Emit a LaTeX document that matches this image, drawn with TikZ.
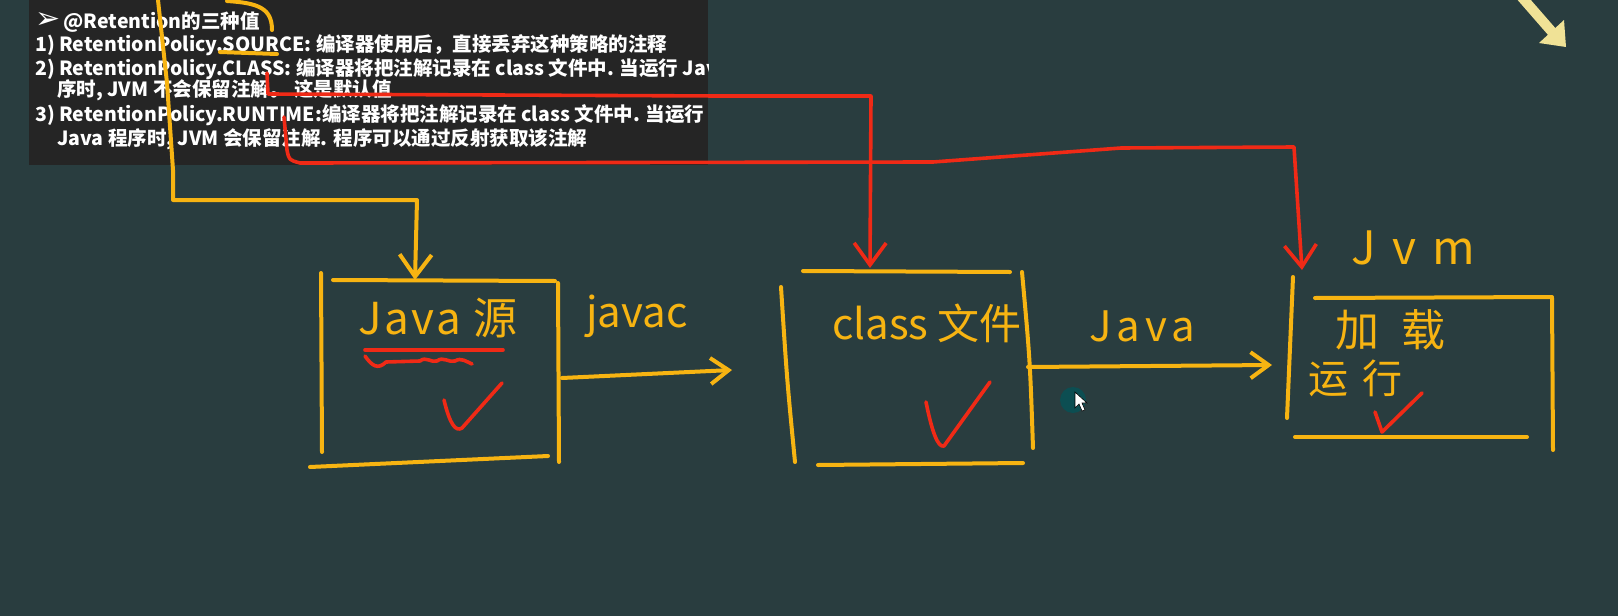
\documentclass[tikz,border=0pt]{standalone}
\usepackage{fontspec}
\setmainfont{Noto Sans CJK SC}
\newfontfamily\symf{DejaVu Sans}
\usetikzlibrary{arrows.meta}

\definecolor{board}{RGB}{41,61,63}
\definecolor{slide}{RGB}{37,37,37}
\definecolor{chalk}{RGB}{247,180,18}
\definecolor{redink}{RGB}{240,42,22}
\definecolor{pale}{RGB}{240,226,150}
\definecolor{dot}{RGB}{12,78,82}

\tikzset{
  chalk/.style={draw=chalk, line width=4pt, line cap=round, line join=round},
  redpen/.style={draw=redink, line width=3.6pt, line cap=round, line join=round},
  barb/.style={-{Straight Barb[length=22pt,width=32pt]}},
  smallbarb/.style={-{Straight Barb[length=18pt,width=26pt]}},
  hand/.style n args={2}{text=chalk, inner sep=0pt,
    font=\fontsize{#1}{#1}\selectfont\addfontfeatures{LetterSpace=#2}},
  slideline/.style={text=white, font=\fontsize{19.5}{23}\selectfont\bfseries, anchor=base west, inner sep=0pt},
}

\begin{document}
\begin{tikzpicture}[x=1pt, y=-1pt]
  \useasboundingbox (0,0) rectangle (1618,616);
  \fill[board] (0,0) rectangle (1618,616);

  % slide with the three values
  \fill[slide] (29,0) rectangle (708,165);
  \node[slideline] (title) at (35,28) {{\symf\fontsize{30}{30}\selectfont ➢}\,@Retention的三种值};
  \node[slideline] (lsource) at (35,51) {1) RetentionPolicy.SOURCE: 编译器使用后，直接丢弃这种策略的注释};
  \begin{scope}
    \clip (29,0) rectangle (708,165);
    \node[slideline] (lclass) at (35,75) {2) RetentionPolicy.CLASS: 编译器将把注解记录在 class 文件中. 当运行 Java};
  \end{scope}
  \node[slideline] (lclassb) at (57,96) {序时, JVM 不会保留注解。 这是默认值};
  \node[slideline] (lruntime) at (35,121) {3) RetentionPolicy.RUNTIME:编译器将把注解记录在 class 文件中. 当运行};
  \node[slideline] (lruntimeb) at (57,145) {Java 程序时, JVM 会保留注解. 程序可以通过反射获取该注解};

  % the three stages
  \coordinate (srcin) at (415,280);
  \coordinate (srcout) at (562,378);
  \coordinate (clsin) at (870,268);
  \coordinate (clsinl) at (732,370);
  \coordinate (clsout) at (1028,367);
  \coordinate (jvmin) at (1302,270);
  \coordinate (jvminl) at (1272,365);

  % source box
  \draw[chalk] (321,273) -- (322,452);
  \draw[chalk] (333,280) -- (555,281);
  \draw[chalk] (558,283) -- (559,462);
  \draw[chalk] (310,467) -- (548,456);
  \node[hand={44}{6}] (src) at (438,318) {Java 源};
  \draw[redpen] (365,350) -- (503,350);
  \draw[redpen] (365,356) .. controls (372,366) and (378,370) .. (386,362) -- (420,361)
    .. controls (426,356) and (431,363) .. (437,361) .. controls (443,356) and (449,363) .. (455,361)
    .. controls (461,357) and (467,362) .. (472,364);
  \draw[redpen] (444,400) .. controls (450,425) and (456,432) .. (462,428) -- (502,383);

  % class box
  \draw[chalk] (803,271) -- (1010,272);
  \draw[chalk] (781,287) .. controls (787,380) .. (795,462);
  \draw[chalk] (1022,272) .. controls (1030,360) .. (1033,448);
  \draw[chalk] (818,465) -- (1023,463);
  \node[hand={42}{0}] (cls) at (927,323) {class 文件};
  \draw[redpen] (926,402) .. controls (932,432) and (938,448) .. (944,446) -- (990,382);

  % jvm box
  \draw[chalk] (1293,277) -- (1287,418);
  \draw[chalk] (1315,298) -- (1552,297);
  \draw[chalk] (1552,298) -- (1553,450);
  \draw[chalk] (1295,437) -- (1527,437);
  \node[hand={46}{35}] (jvm) at (1413,248) {Jvm};
  \node[hand={44}{50}] (load) at (1390,330) {加载};
  \node[hand={40}{35}] (run) at (1355,378) {运行};
  \draw[redpen] (1375,412) -- (1382,432) -- (1422,393);

  % arrows between stages
  \draw[chalk, smallbarb] (srcout) -- (clsinl);
  \node[hand={42}{0}] (javac) at (637,316) {javac};
  \draw[chalk, smallbarb] (clsout) -- (jvminl);
  \node[hand={42}{12}] (java) at (1142,326) {Java};

  % lines from the slide
  \draw[chalk] (227,1) .. controls (258,3) and (272,8) .. (272,30);
  \draw[chalk] (220,52) -- (277,54);
  \draw[chalk, barb] (158,0) -- (167,83) -- (173,170) -- (173,200) -- (417,200) -- (srcin);
  \draw[redpen, barb] (267,73) -- (268,94) -- (720,96) -- (871,96) -- (clsin);
  \draw[redpen, barb] (284,117) -- (287,150) .. controls (289,160) .. (300,163)
    -- (933,162) -- (1121,148) -- (1294,147) -- (jvmin);

  % mouse pointer
  \fill[dot] (1073,400) circle (13);
  \filldraw[fill=white, draw=black, line width=0.6pt] (1075,392) -- (1075,408) -- (1079,404)
    -- (1082,411) -- (1085,410) -- (1082,403) -- (1087,403) -- cycle;

  % pointer arrow at top right
  \draw[pale, line width=10pt] (1519,-6) -- (1553,33);
  \fill[pale] (1539,43) -- (1566,47) -- (1564,20) -- cycle;
\end{tikzpicture}
\end{document}
